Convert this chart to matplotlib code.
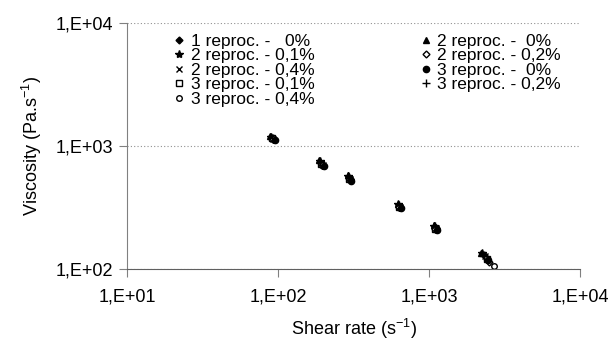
import math
import matplotlib
matplotlib.use("Agg")
import matplotlib.pyplot as plt
from matplotlib.ticker import FixedLocator, FuncFormatter, NullLocator

plt.rcParams['font.family'] = ['Liberation Sans', 'DejaVu Sans']
plt.rcParams['mathtext.fontset'] = 'custom'
plt.rcParams['mathtext.rm'] = 'Liberation Sans'

# shear rate (1/s) and viscosity (Pa.s) per sample
labels = ["1 reproc. -   0%", "2 reproc. - 0,1%", "2 reproc. - 0,4%", "3 reproc. - 0,1%",
          "3 reproc. - 0,4%", "2 reproc. -  0%", "2 reproc. - 0,2%", "3 reproc. -  0%",
          "3 reproc. - 0,2%"]
markers = ["D", "*", "x", "s", "o", "^", "D", "o", "+"]
filled = [True, True, True, False, False, True, False, True, True]
sizes = [3.5, 6, 5, 4, 4, 4.5, 3.5, 4.5, 6]

shear_1r_00 = [92, 195, 296, 632, 1096, 2291]
shear_2r_01 = [90, 190, 292, 625, 1080, 2250]
shear_2r_04 = [93, 197, 300, 640, 1110, 2350]
shear_3r_01 = [91, 192, 294, 628, 1090, 2400]
shear_3r_04 = [94, 199, 302, 645, 1120, 2667]
shear_2r_00 = [89, 188, 290, 620, 1075, 2200]
shear_2r_02 = [92, 194, 298, 635, 1100, 2500]
shear_3r_00 = [95, 200, 304, 650, 1130, 2450]
shear_3r_02 = [91, 191, 295, 630, 1095, 2320]

visc_1r_00 = [1160, 720, 548, 325, 218, 130]
visc_2r_01 = [1190, 760, 575, 335, 225, 135]
visc_2r_04 = [1140, 700, 535, 320, 215, 127]
visc_3r_01 = [1150, 710, 540, 322, 213, 120]
visc_3r_04 = [1120, 690, 525, 315, 210, 106]
visc_2r_00 = [1200, 770, 580, 340, 228, 136]
visc_2r_02 = [1130, 700, 530, 318, 212, 115]
visc_3r_00 = [1110, 690, 520, 312, 208, 118]
visc_3r_02 = [1170, 740, 560, 330, 222, 128]

shear = [shear_1r_00, shear_2r_01, shear_2r_04, shear_3r_01, shear_3r_04,
         shear_2r_00, shear_2r_02, shear_3r_00, shear_3r_02]
visc = [visc_1r_00, visc_2r_01, visc_2r_04, visc_3r_01, visc_3r_04,
        visc_2r_00, visc_2r_02, visc_3r_00, visc_3r_02]

fig = plt.figure(figsize=(6.16, 3.41), dpi=100)
ax = fig.add_axes([0.206, 0.211, 0.736, 0.722])

for x, y, lab, m, f, s in zip(shear, visc, labels, markers, filled, sizes):
    ax.plot(x, y, linestyle="none", marker=m, markersize=s, color="black",
            markerfacecolor="black" if f else "white", markeredgecolor="black",
            markeredgewidth=1.0, label=lab)

ax.set_xscale("log")
ax.set_yscale("log")
ax.set_xlim(10, 10000)
ax.set_ylim(100, 10000)

fmt = FuncFormatter(lambda v, p: "1,E+%02d" % round(math.log10(v)))
ax.xaxis.set_major_locator(FixedLocator([10, 100, 1000, 10000]))
ax.yaxis.set_major_locator(FixedLocator([100, 1000, 10000]))
ax.xaxis.set_minor_locator(NullLocator())
ax.yaxis.set_minor_locator(NullLocator())
ax.xaxis.set_major_formatter(fmt)
ax.yaxis.set_major_formatter(fmt)
ax.tick_params(labelsize=13, length=6, color="#808080", pad=4)
ax.tick_params(axis="x", pad=8)

ax.yaxis.grid(True, linestyle=(0, (1, 2)), color="#909090", linewidth=0.8)
ax.spines["top"].set_visible(False)
ax.spines["right"].set_visible(False)
ax.spines["left"].set_color("#808080")
ax.spines["bottom"].set_color("#606060")

ax.set_xlabel("Shear rate (s$^{-1}$)", fontsize=13, labelpad=8)
ax.set_ylabel("Viscosity (Pa.s$^{-1}$)", fontsize=13, labelpad=8)

ax.legend(ncol=2, loc="upper left", bbox_to_anchor=(0.07, 1.005), frameon=False,
          fontsize=12.5, handletextpad=0.15, labelspacing=-0.04, columnspacing=5.9,
          handlelength=1.0, borderaxespad=0.3)

fig.savefig("out.png", dpi=100)
